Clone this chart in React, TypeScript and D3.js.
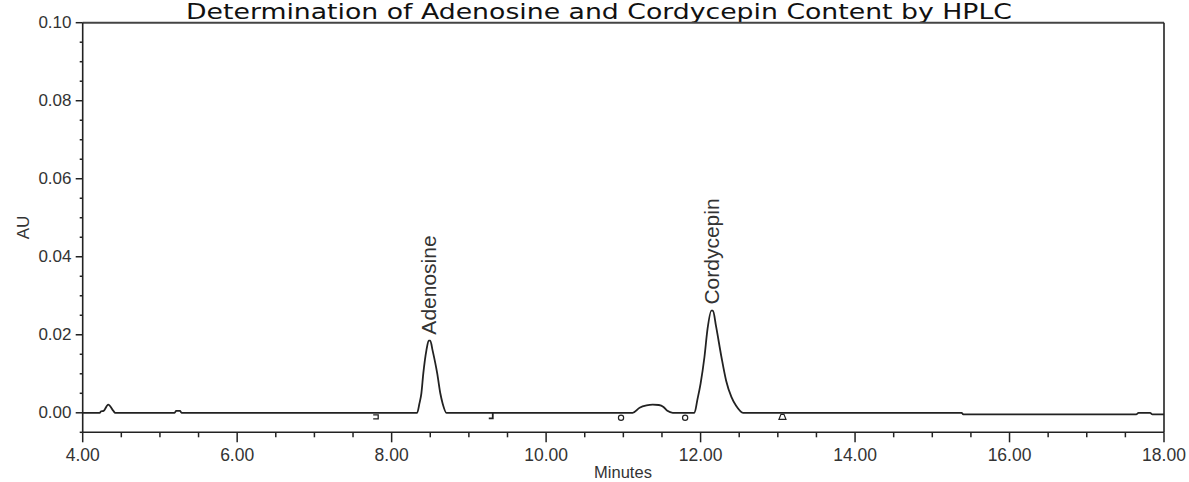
import React from 'react';
import * as d3 from 'd3';

// chromatogram trace (minutes, AU)
const traceTime = [
  4.0, 4.22, 4.24, 4.27, 4.33, 4.4, 4.42,
  5.19, 5.21, 5.26, 5.28,
  8.33, 8.36, 8.385, 8.41, 8.45, 8.48, 8.5, 8.53, 8.59, 8.63, 8.66, 8.71,
  11.12, 11.21, 11.3, 11.38, 11.46, 11.52, 11.57, 11.64,
  11.92, 11.96, 12.0, 12.05, 12.09, 12.14, 12.16, 12.2, 12.27, 12.33, 12.4, 12.46, 12.55,
  15.38, 15.4, 17.64, 17.67, 17.82, 17.85, 18.0,
];
const traceAU = [
  0, 0, 0.0004, 0.0005, 0.0021, 0.0004, 0,
  0, 0.0005, 0.0005, 0,
  0, 0.0024, 0.005, 0.0101, 0.016, 0.0185, 0.0185, 0.016, 0.0101, 0.005, 0.0024, 0,
  0, 0.0013, 0.0019, 0.0021, 0.002, 0.0015, 0.0005, 0,
  0, 0.0035, 0.0075, 0.0143, 0.0215, 0.0262, 0.0262, 0.0222, 0.0143, 0.0083, 0.004, 0.0018, 0,
  0, -0.0004, -0.0004, 0, 0, -0.0004, -0.0004,
];

// named peaks
const peakNames = ['Adenosine', 'Cordycepin'];
const peakTimes = [8.49, 12.15];
const peakHeights = [0.0185, 0.0262];

// integration event marks under the baseline
const markTimes = [7.8, 9.29, 10.97, 11.8, 13.06];
const markKinds = ['bracket', 'tick', 'circle', 'circle', 'triangle'];

const xMajor = [4, 6, 8, 10, 12, 14, 16, 18];
const yMajor = [0, 0.02, 0.04, 0.06, 0.08, 0.1];

const W = 1189;
const H = 482;
const left = 82.7;
const right = 1164;
const top = 22.7;
const bottom = 432.3;

export default function App() {
  const x = d3.scaleLinear().domain([4, 18]).range([left, right]);
  const y = d3.scaleLinear().domain([-0.005, 0.1]).range([bottom, top]);

  const pts: [number, number][] = traceTime.map((t, i) => [t, traceAU[i]]);
  const line = d3.line<[number, number]>().x(d => x(d[0])).y(d => y(d[1])).curve(d3.curveMonotoneX);

  const xMinor = d3.range(4, 18.001, 0.5).filter(v => !xMajor.some(m => Math.abs(m - v) < 1e-6));
  const yMinor = d3.range(-0.005, 0.1001, 0.005).filter(v => !yMajor.some(m => Math.abs(m - v) < 1e-6));
  const fmt = d3.format('.2f');
  const ink = '#222';
  const tickFont = '"Liberation Sans", Arial, sans-serif';
  const y0 = y(0);

  return (
    <svg width={W} height={H} style={{ position: 'absolute', left: 0, top: 0, background: '#fff' }}>
      <text x={599} y={18.5} textAnchor="middle" textLength={826} lengthAdjust="spacingAndGlyphs"
        fontFamily='"DejaVu Sans", Verdana, sans-serif' fontSize={20.5} fill="#111">
        Determination of Adenosine and Cordycepin Content by HPLC
      </text>

      {/* frame */}
      <line x1={left} x2={right} y1={top} y2={top} stroke="#444" strokeWidth={2} />
      <line x1={right} x2={right} y1={top} y2={bottom} stroke={ink} strokeWidth={1.6} />
      <line x1={left} x2={left} y1={top} y2={bottom} stroke={ink} strokeWidth={1.6} />
      <line x1={left} x2={right} y1={bottom} y2={bottom} stroke={ink} strokeWidth={1.6} />

      {/* y axis */}
      {yMajor.map(v => (
        <g key={'ym' + v}>
          <line x1={left - 7} x2={left} y1={y(v)} y2={y(v)} stroke={ink} strokeWidth={1.5} />
          <text x={71.5} y={y(v) + 5} textAnchor="end" fontFamily={tickFont} fontSize={17} fill="#333">
            {fmt(v)}
          </text>
        </g>
      ))}
      {yMinor.map(v => (
        <line key={'yn' + v} x1={left - 3} x2={left} y1={y(v)} y2={y(v)} stroke={ink} strokeWidth={1.5} />
      ))}
      <text transform="translate(28.5,227.5) rotate(-90)" textAnchor="middle" fontFamily={tickFont} fontSize={17} fill="#333">
        AU
      </text>

      {/* x axis */}
      {xMajor.map(v => (
        <g key={'xm' + v}>
          <line x1={x(v)} x2={x(v)} y1={bottom} y2={bottom + 10} stroke={ink} strokeWidth={1.5} />
          <text x={x(v)} y={461} textAnchor="middle" fontFamily={tickFont} fontSize={17.5} fill="#333">
            {fmt(v)}
          </text>
        </g>
      ))}
      {xMinor.map(v => (
        <line key={'xn' + v} x1={x(v)} x2={x(v)} y1={bottom} y2={bottom + 5} stroke={ink} strokeWidth={1.5} />
      ))}
      <text x={623} y={478} textAnchor="middle" fontFamily={tickFont} fontSize={16.5} fill="#333">
        Minutes
      </text>

      {/* trace */}
      <path d={line(pts) || ''} fill="none" stroke={ink} strokeWidth={1.8} strokeLinejoin="round" />

      {/* event marks */}
      {markTimes.map((t, i) => {
        const cx = x(t);
        const k = markKinds[i];
        if (k === 'circle') {
          return <circle key={'mk' + i} cx={cx} cy={y0 + 5} r={2.6} fill="#fff" stroke={ink} strokeWidth={1.2} />;
        }
        if (k === 'triangle') {
          return (
            <path key={'mk' + i} d={`M${cx - 3.5},${y0 + 6.5} H${cx + 3.5} L${cx + 1.5},${y0 + 1.5} H${cx - 1.5} Z`}
              fill="#fff" stroke={ink} strokeWidth={1.2} />
          );
        }
        if (k === 'tick') {
          return (
            <path key={'mk' + i} d={`M${cx + 1.5},${y0} V${y0 + 5.5} H${cx - 2.5}`}
              fill="none" stroke={ink} strokeWidth={1.8} />
          );
        }
        return (
          <path key={'mk' + i} d={`M${cx - 3},${y0 + 2} H${cx + 2} V${y0 + 6} H${cx - 3}`}
            fill="none" stroke={ink} strokeWidth={1.3} />
        );
      })}

      {/* peak labels */}
      {peakNames.map((n, i) => (
        <text key={n} transform={`translate(${x(peakTimes[i]) + 7},${y(peakHeights[i]) - 6}) rotate(-90)`}
          fontFamily={tickFont} fontSize={21} fill="#333">
          {n}
        </text>
      ))}
    </svg>
  );
}
